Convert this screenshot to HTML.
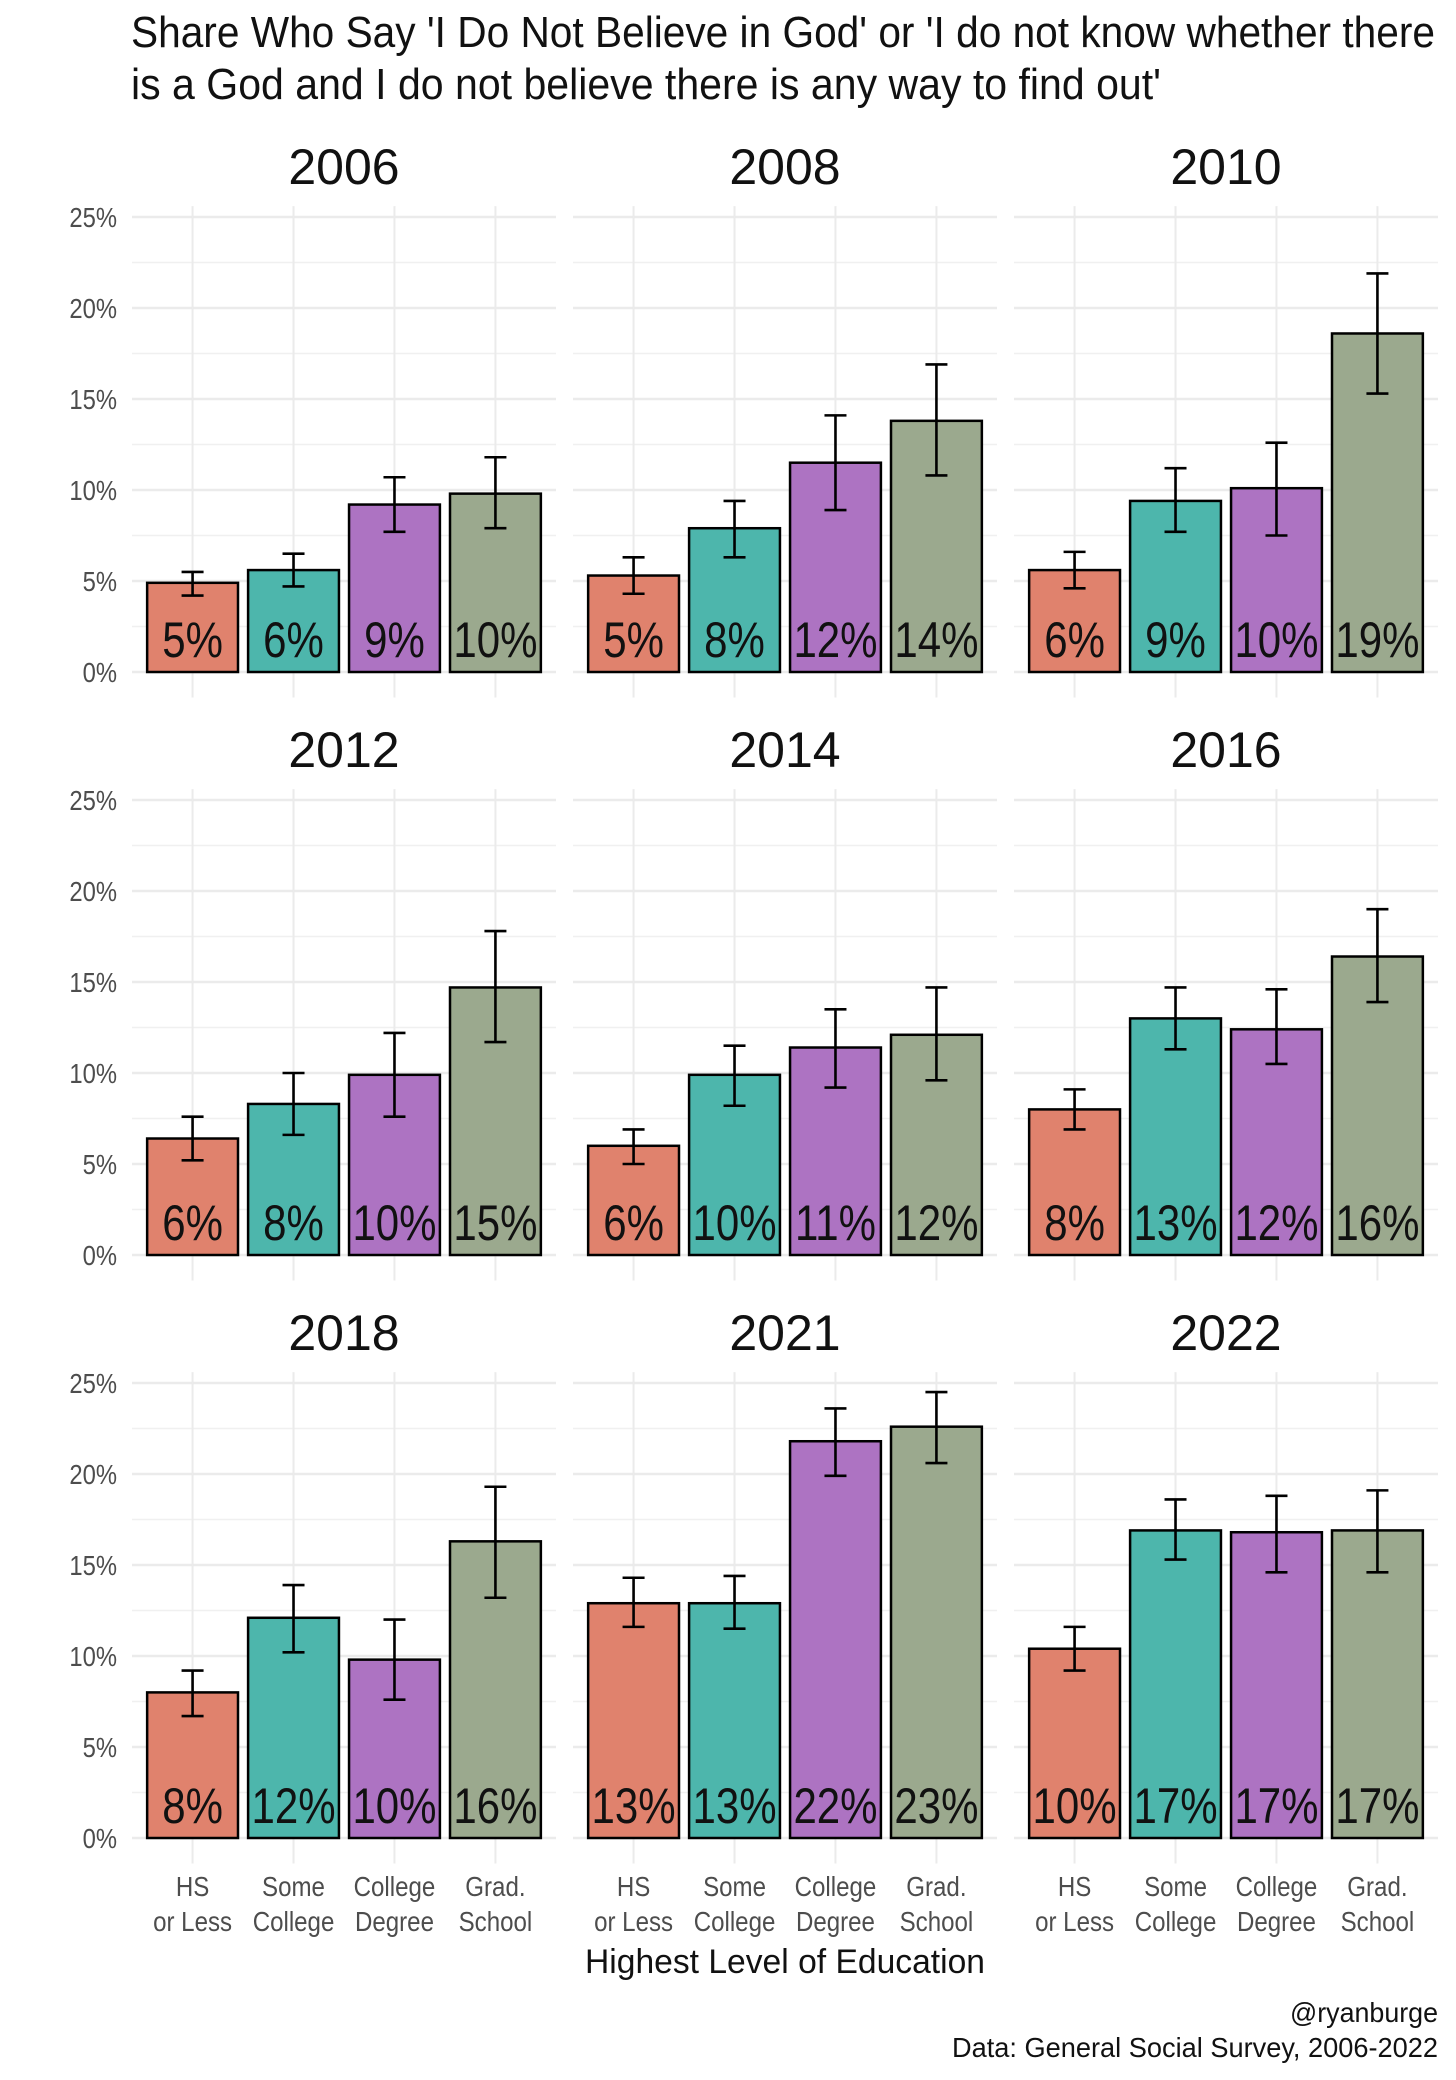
<!DOCTYPE html>
<html><head><meta charset="utf-8"><style>
html,body{margin:0;padding:0;background:#fff;}
svg{display:block;font-family:"Liberation Sans",sans-serif;}
</style></head><body>
<svg id="chart" width="1456" height="2080" viewBox="0 0 1456 2080" xmlns="http://www.w3.org/2000/svg">
<text x="131" y="47" font-size="44" fill="#111" textLength="1304" lengthAdjust="spacingAndGlyphs">Share Who Say 'I Do Not Believe in God' or 'I do not know whether there</text>
<text x="131" y="99" font-size="44" fill="#111" textLength="1030" lengthAdjust="spacingAndGlyphs">is a God and I do not believe there is any way to find out'</text>
<g id="panels"></g>
<text x="785" y="1973" font-size="34" fill="#111" text-anchor="middle" textLength="400" lengthAdjust="spacingAndGlyphs">Highest Level of Education</text>
<text x="1438" y="2022" font-size="28" fill="#111" text-anchor="end" textLength="148" lengthAdjust="spacingAndGlyphs">@ryanburge</text>
<text x="1438" y="2057" font-size="28" fill="#111" text-anchor="end" textLength="486" lengthAdjust="spacingAndGlyphs">Data: General Social Survey, 2006-2022</text>
</svg>
<script>
const years = ["2006","2008","2010","2012","2014","2016","2018","2021","2022"];
const categories = ["HS|or Less","Some|College","College|Degree","Grad.|School"];
const colors = ["#E0826D","#4DB6AC","#AD73C2","#9BA98E"];
const hsValues      = [4.9,5.3,5.6,6.4,6.0,8.0,8.0,12.9,10.4];
const someValues    = [5.6,7.9,9.4,8.3,9.9,13.0,12.1,12.9,16.9];
const collegeValues = [9.2,11.5,10.1,9.9,11.4,12.4,9.8,21.8,16.8];
const gradValues    = [9.8,13.8,18.6,14.7,12.1,16.4,16.3,22.6,16.9];
const hsLow = [4.2,4.3,4.6,5.2,5.0,6.9,6.7,11.6,9.2];
const hsHigh = [5.5,6.3,6.6,7.6,6.9,9.1,9.2,14.3,11.6];
const someLow = [4.7,6.3,7.7,6.6,8.2,11.3,10.2,11.5,15.3];
const someHigh = [6.5,9.4,11.2,10.0,11.5,14.7,13.9,14.4,18.6];
const collegeLow = [7.7,8.9,7.5,7.6,9.2,10.5,7.6,19.9,14.6];
const collegeHigh = [10.7,14.1,12.6,12.2,13.5,14.6,12.0,23.6,18.8];
const gradLow = [7.9,10.8,15.3,11.7,9.6,13.9,13.2,20.6,14.6];
const gradHigh = [11.8,16.9,21.9,17.8,14.7,19.0,19.3,24.5,19.1];
const yTicks = [0,5,10,15,20,25];
const yTickLabels = ["0%","5%","10%","15%","20%","25%"];

const series=[hsValues,someValues,collegeValues,gradValues];
const lows=[hsLow,someLow,collegeLow,gradLow];
const highs=[hsHigh,someHigh,collegeHigh,gradHigh];
const NS="http://www.w3.org/2000/svg";
const root=document.getElementById('panels');
const PW=424, PX0=132, PGAP=17, ROWZERO=672, ROWSTEP=583, PXPU=455/25;
function mk(tag,attrs,parent){const e=document.createElementNS(NS,tag);for(const k in attrs)e.setAttribute(k,attrs[k]);parent.appendChild(e);return e;}
years.forEach((yr,pi)=>{
  const col=pi%3,row=Math.floor(pi/3);
  const x0=PX0+col*(PW+PGAP), zero=ROWZERO+row*ROWSTEP;
  const yS=v=>zero-v*PXPU;
  const step=PW/4.2;
  const xS=i=>x0+(i+0.6)*step;
  const g=mk('g',{},root);
  
  
  const t=mk('text',{x:x0+PW/2,y:184+row*ROWSTEP,'font-size':50,'text-anchor':'middle',fill:'#111'},g);
  
  
  t.textContent=yr;
  for(let k=0;k<5;k++){const v=yTicks[k]+2.5;const l=mk('line',{x1:x0,x2:x0+PW,y1:yS(v),y2:yS(v),stroke:'#f0f0f0','stroke-width':1.5},g);
    }
  yTicks.forEach((v,k)=>{const l=mk('line',{x1:x0,x2:x0+PW,y1:yS(v),y2:yS(v),stroke:'#ebebeb','stroke-width':2.5},g);
    
    if(col===0){const tl=mk('text',{x:117,y:yS(v)+10,'font-size':28,'text-anchor':'end',fill:'#4d4d4d',transform:`translate(117,0) scale(0.85,1) translate(-117,0)`},g);
      tl.textContent=yTickLabels[k];}
  });
  categories.forEach((c,i)=>{
    const cx=xS(i);
    const vl=mk('line',{x1:cx,x2:cx,y1:yS(25.6),y2:yS(-1.4),stroke:'#ebebeb','stroke-width':2},g);
    
    const v=series[i][pi], bw=step*0.9;
    const r=mk('rect',{x:cx-bw/2,y:yS(v),width:bw,height:yS(0)-yS(v),fill:colors[i],stroke:'#000','stroke-width':2.5},g);
    
    const lo=yS(lows[i][pi]),hi=yS(highs[i][pi]);
    const eb=mk('path',{d:`M${cx-11},${hi}H${cx+11}M${cx},${hi}V${lo}M${cx-11},${lo}H${cx+11}`,stroke:'#000','stroke-width':2.6,fill:'none'},g);
    
    const bl=mk('text',{x:cx,y:zero-15,'font-size':50,'text-anchor':'middle',fill:'#111',transform:`translate(${cx},0) scale(0.84,1) translate(${-cx},0)`},g);
    
    bl.textContent=Math.round(v)+'%';
    if(row===2){
      const parts=c.split('|');
      parts.forEach((p,j)=>{const xl=mk('text',{x:cx,y:1896+j*35,'font-size':28,'text-anchor':'middle',fill:'#4d4d4d',transform:`translate(${cx},0) scale(0.86,1) translate(${-cx},0)`},g);
        xl.textContent=p;});
    }
  });
});
</script>
</body></html>
